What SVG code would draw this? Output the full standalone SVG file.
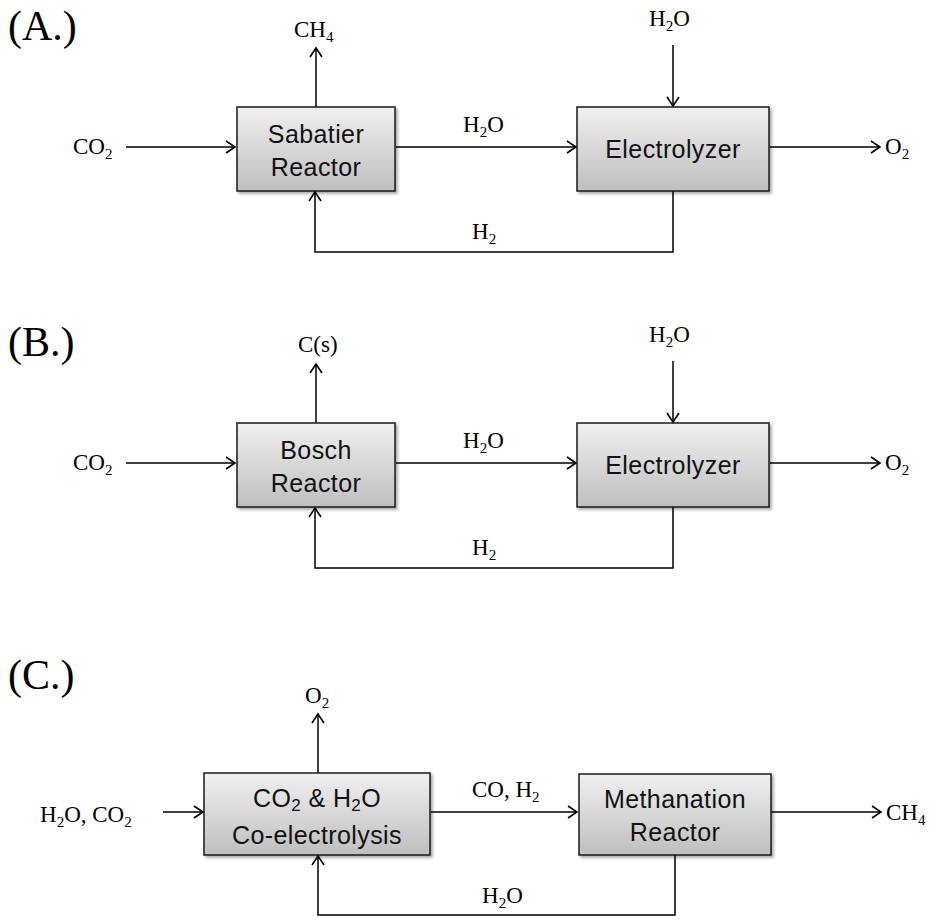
<svg xmlns="http://www.w3.org/2000/svg" width="938" height="920" viewBox="0 0 938 920">
<defs>
<linearGradient id="g" x1="0" y1="0" x2="0" y2="1">
<stop offset="0" stop-color="#f0f0f0"/>
<stop offset="1" stop-color="#bfbfbf"/>
</linearGradient>
<filter id="sh" x="-10%" y="-10%" width="125%" height="130%">
<feDropShadow dx="2" dy="2" stdDeviation="1.5" flood-color="#000" flood-opacity="0.35"/>
</filter>
<marker id="ah" markerWidth="14" markerHeight="14" viewBox="-10 -7 12 14" refX="0" refY="0" orient="auto" markerUnits="userSpaceOnUse">
<polyline points="-9,-6 0,0 -9,6" fill="none" stroke="#000" stroke-width="1.6"/>
</marker>
</defs>
<style>
.box{fill:url(#g);stroke:#1a1a1a;stroke-width:1.5;filter:url(#sh)}
.bt{font-family:"Liberation Sans",Arial,sans-serif;font-size:25px;letter-spacing:0.4px;fill:#111;text-anchor:middle}
.st{font-family:"Liberation Serif","Times New Roman",serif;font-size:23px;fill:#000}
.pl{font-family:"Liberation Serif","Times New Roman",serif;font-size:42px;fill:#000}
.sub{font-size:15px}
.c{fill:none;stroke:#000;stroke-width:1.5}
.a{marker-end:url(#ah)}
</style>
<rect width="938" height="920" fill="#fff"/>
<text class="pl" x="8" y="40">(A.)</text>
<text class="pl" x="8" y="356">(B.)</text>
<text class="pl" x="8" y="689">(C.)</text>

<g id="connectors">
<!-- A -->
<line class="c a" x1="126" y1="147" x2="235" y2="147"/>
<line class="c a" x1="316" y1="107" x2="316" y2="48"/>
<line class="c a" x1="396" y1="147" x2="576" y2="147"/>
<line class="c a" x1="673" y1="45" x2="673" y2="106"/>
<line class="c a" x1="770" y1="147" x2="880" y2="147"/>
<polyline class="c a" points="673,191 673,252 315,252 315,192"/>
<!-- B -->
<line class="c a" x1="126" y1="463" x2="235" y2="463"/>
<line class="c a" x1="316" y1="423" x2="316" y2="364"/>
<line class="c a" x1="396" y1="463" x2="576" y2="463"/>
<line class="c a" x1="673" y1="361" x2="673" y2="422"/>
<line class="c a" x1="770" y1="463" x2="880" y2="463"/>
<polyline class="c a" points="673,507 673,568 315,568 315,508"/>
<!-- C -->
<line class="c a" x1="163" y1="812" x2="203" y2="812"/>
<line class="c a" x1="318" y1="773" x2="318" y2="714"/>
<line class="c a" x1="431" y1="812" x2="577" y2="812"/>
<line class="c a" x1="771" y1="812" x2="881" y2="812"/>
<polyline class="c a" points="675,855 675,915 318,915 318,856"/>
</g>

<g id="sabatier"><rect class="box" x="237" y="107" width="158" height="84"/>
<text class="bt" x="316" y="143">Sabatier</text><text class="bt" x="316" y="176">Reactor</text></g>
<g id="electrolyzerA"><rect class="box" x="577" y="107" width="192" height="84"/>
<text class="bt" x="673" y="158">Electrolyzer</text></g>
<g id="bosch"><rect class="box" x="237" y="423" width="158" height="84"/>
<text class="bt" x="316" y="459">Bosch</text><text class="bt" x="316" y="492">Reactor</text></g>
<g id="electrolyzerB"><rect class="box" x="577" y="423" width="192" height="84"/>
<text class="bt" x="673" y="474">Electrolyzer</text></g>
<g id="coelectrolysis"><rect class="box" x="204" y="773" width="226" height="82"/>
<text class="bt" x="317" y="807">CO<tspan font-size="17" dy="4">2</tspan><tspan dy="-4"> &amp; H</tspan><tspan font-size="17" dy="4">2</tspan><tspan dy="-4">O</tspan></text>
<text class="bt" x="317" y="844">Co-electrolysis</text></g>
<g id="methanation"><rect class="box" x="579" y="774" width="192" height="81"/>
<text class="bt" x="675" y="808">Methanation</text><text class="bt" x="675" y="841">Reactor</text></g>

<g id="labels">
<text class="st" x="73" y="154">CO<tspan class="sub" dy="5">2</tspan></text>
<text class="st" x="294" y="37">CH<tspan class="sub" dy="5">4</tspan></text>
<text class="st" x="463" y="132">H<tspan class="sub" dy="5">2</tspan><tspan dy="-5">O</tspan></text>
<text class="st" x="649" y="26">H<tspan class="sub" dy="5">2</tspan><tspan dy="-5">O</tspan></text>
<text class="st" x="885" y="154">O<tspan class="sub" dy="5">2</tspan></text>
<text class="st" x="472" y="239">H<tspan class="sub" dy="5">2</tspan></text>

<text class="st" x="73" y="470">CO<tspan class="sub" dy="5">2</tspan></text>
<text class="st" x="298" y="352">C(s)</text>
<text class="st" x="463" y="448">H<tspan class="sub" dy="5">2</tspan><tspan dy="-5">O</tspan></text>
<text class="st" x="649" y="342">H<tspan class="sub" dy="5">2</tspan><tspan dy="-5">O</tspan></text>
<text class="st" x="885" y="470">O<tspan class="sub" dy="5">2</tspan></text>
<text class="st" x="472" y="555">H<tspan class="sub" dy="5">2</tspan></text>

<text class="st" x="40" y="822">H<tspan class="sub" dy="5">2</tspan><tspan dy="-5">O, CO</tspan><tspan class="sub" dy="5">2</tspan></text>
<text class="st" x="305" y="703">O<tspan class="sub" dy="5">2</tspan></text>
<text class="st" x="472" y="797">CO, H<tspan class="sub" dy="5">2</tspan></text>
<text class="st" x="886" y="820">CH<tspan class="sub" dy="5">4</tspan></text>
<text class="st" x="482" y="903">H<tspan class="sub" dy="5">2</tspan><tspan dy="-5">O</tspan></text>
</g>
</svg>
